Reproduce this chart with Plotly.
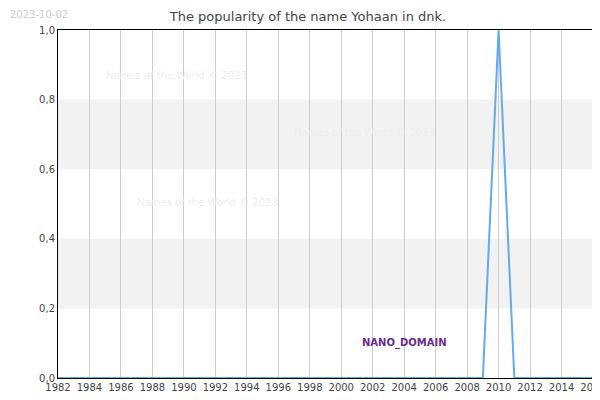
import plotly.graph_objects as go

years = list(range(1982, 2017))
popularity = [0] * len(years)
popularity[years.index(2010)] = 1.0

x_ticks = list(range(1982, 2017, 2))
y_ticks = [0, 0.2, 0.4, 0.6, 0.8, 1.0]
bands = [(0.2, 0.4), (0.6, 0.8)]
watermarks = [(1989.5, 0.87), (2001.5, 0.705), (1991.5, 0.505)]

fig = go.Figure()
fig.add_trace(go.Scatter(x=years, y=popularity, mode="lines",
                         line=dict(color="#66aaee", width=2), showlegend=False))

for y0, y1 in bands:
    fig.add_hrect(y0=y0, y1=y1, fillcolor="#f2f2f2", line_width=0, layer="below")

for wx, wy in watermarks:
    fig.add_annotation(x=wx, y=wy, text="Names of the World © 2023", showarrow=False,
                       font=dict(color="#ececf8", size=10, family="DejaVu Sans"))

fig.add_annotation(x=2004, y=0.1, text="<b>NANO_DOMAIN</b>", showarrow=False,
                   font=dict(color="#6a2c91", size=10, family="DejaVu Sans"))
fig.add_annotation(xref="paper", yref="paper", x=-0.093, y=1.065, xanchor="left",
                   yanchor="top", text="2023-10-02", showarrow=False,
                   font=dict(color="#cccccc", size=10, family="DejaVu Sans"))

fig.update_layout(
    width=600, height=400,
    margin=dict(l=50, r=15, t=22, b=30, autoexpand=False),
    plot_bgcolor="white", paper_bgcolor="white",
    separators=", ",
    title=dict(text="The popularity of the name Yohaan in dnk.", x=0.5, y=0.99,
               xanchor="center", yanchor="top",
               font=dict(size=13, color="#444444", family="DejaVu Sans")),
    font=dict(family="DejaVu Sans", size=10, color="#444444"),
)
fig.update_xaxes(range=[1982, 2016], tickvals=x_ticks, showgrid=True, gridcolor="#cccccc",
                 showline=True, linecolor="black", mirror=True, zeroline=False,
                 ticks="", automargin=False, tickfont=dict(size=10))
fig.update_yaxes(range=[0, 1.0], tickvals=y_ticks, tickformat=".1f", showgrid=False,
                 showline=True, linecolor="black", mirror=True, zeroline=False,
                 ticks="", automargin=False, tickfont=dict(size=10))

fig.write_html("out.html")
